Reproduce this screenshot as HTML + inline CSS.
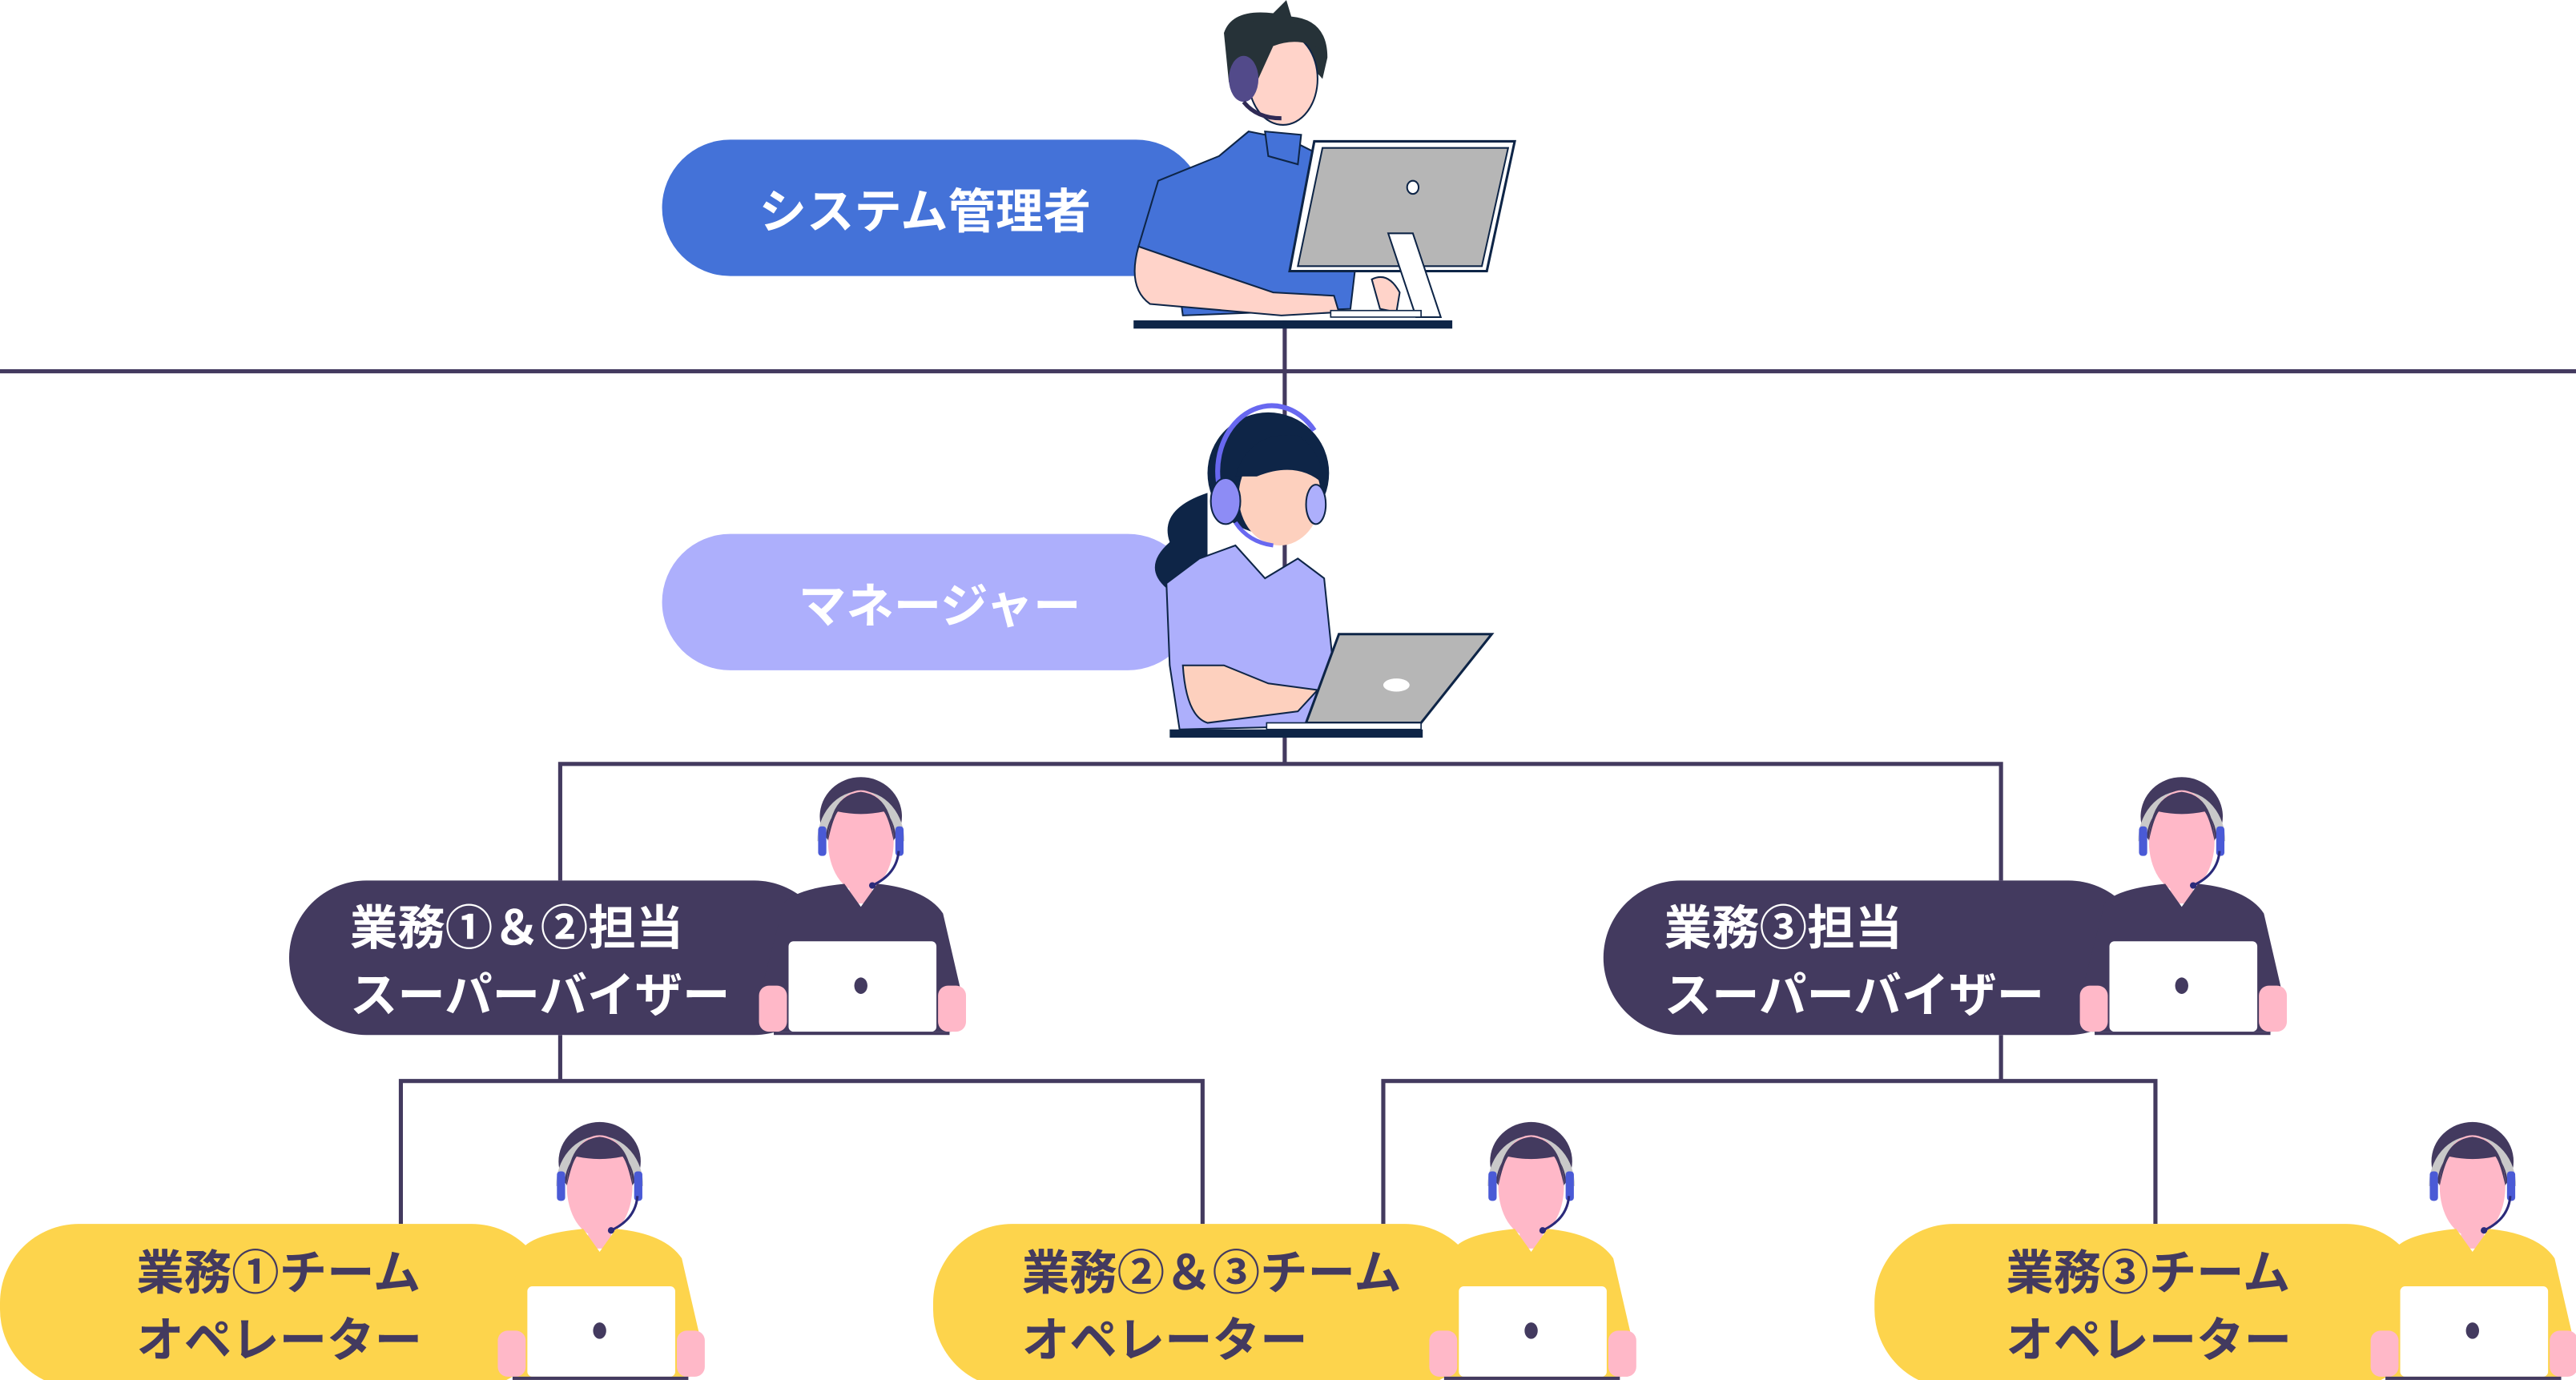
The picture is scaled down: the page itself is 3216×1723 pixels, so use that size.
<!DOCTYPE html>
<html><head><meta charset="utf-8"><style>
html,body{margin:0;padding:0;background:#fff;}
svg{display:block;}
text{font-family:"Liberation Sans","Noto Sans CJK JP",sans-serif;font-weight:bold;}
</style></head><body>
<svg width="3216" height="1723" viewBox="0 0 1568 840" xmlns="http://www.w3.org/2000/svg">
<defs>
<g id="agent">
  <ellipse cx="0" cy="497" rx="25" ry="24" fill="#433a5f"/>
  <path d="M-24,512 A24,28 0 0 1 24,512" fill="none" stroke="#c9c9c9" stroke-width="5"/>
  <rect x="-7" y="530" width="14" height="20" fill="#ffb8c8"/>
  <ellipse cx="0" cy="512" rx="20" ry="31" fill="#ffb8c8"/>
  <path d="M-20,512 Q-19,484 0,482 Q19,484 20,512 Q17,498 14,494 Q0,497 -14,494 Q-17,498 -20,512Z" fill="#433a5f"/>
  <rect x="-26" y="503" width="5" height="18" rx="2" fill="#4a5ad6"/>
  <rect x="21" y="503" width="5" height="18" rx="2" fill="#4a5ad6"/>
  <path d="M23,518 Q22,532 7,539" fill="none" stroke="#2b2a7a" stroke-width="1.5"/>
  <circle cx="7" cy="539" r="2" fill="#2b2a7a"/>
  <path d="M-47,550 Q-40,541 -10,538 L0,552 L10,538 Q40,541 50,556 L62,608 L55,613 L55,628 L-55,628 L-55,612 L-62,608 L-50,562Z" fill="currentColor"/>
  <rect x="-62" y="600" width="17" height="28" rx="6" fill="#ffb8c8"/>
  <rect x="47" y="600" width="17" height="28" rx="6" fill="#ffb8c8"/>
  <rect x="-44" y="573" width="90" height="55" rx="3" fill="#fff"/>
  <ellipse cx="0" cy="600" rx="4" ry="5" fill="#433a5f"/>
  <rect x="-53" y="628" width="107" height="2" fill="#433a5f"/>
</g>
</defs>

<!-- connectors -->
<g stroke="#433a5f" stroke-width="2.5" fill="none">
  <line x1="0" y1="226" x2="1568" y2="226"/>
  <line x1="782" y1="195" x2="782" y2="465"/>
  <polyline points="341,536 341,465 1218,465 1218,536"/>
  <line x1="341" y1="630" x2="341" y2="658"/>
  <line x1="1218" y1="630" x2="1218" y2="658"/>
  <polyline points="244,745 244,658 732,658 732,745"/>
  <polyline points="842,745 842,658 1312,658 1312,745"/>
</g>

<!-- pills -->
<rect x="403" y="85" width="330" height="83" rx="41.5" fill="#4472d8"/>
<rect x="403" y="325" width="325" height="83" rx="41.5" fill="#adaffc"/>
<rect x="176" y="536" width="330" height="94" rx="47" fill="#433a5f"/>
<rect x="976" y="536" width="330" height="94" rx="47" fill="#433a5f"/>
<rect x="0" y="745" width="335" height="100" rx="48" fill="#fdd44c"/>
<rect x="568" y="745" width="335" height="100" rx="48" fill="#fdd44c"/>
<rect x="1141" y="745" width="335" height="100" rx="48" fill="#fdd44c"/>

<!-- admin figure -->
<path d="M745,20 Q750,5 775,8 L783,0 L786,10 Q808,12 808,35 L805,48 Q790,30 770,35 L760,60 L748,50Z" fill="#263238"/>
<path d="M742,95 L760,80 L785,85 L805,95 L830,120 L822,188 L720,192 L716,162 L693,150 L705,110Z" fill="#4472d8" stroke="#0e2547" stroke-width="1"/>
<path d="M770,80 L772,95 L790,100 L792,82Z" fill="#4472d8" stroke="#0e2547" stroke-width="1"/>
<ellipse cx="781" cy="48" rx="21" ry="28" fill="#ffd3c9" stroke="#0e2547" stroke-width="1"/>
<path d="M752,25 Q758,10 772,12 Q795,10 805,30 Q790,22 775,28 L765,50 L755,48Z" fill="#263238"/>
<ellipse cx="757" cy="48" rx="9" ry="14" fill="#524a8a"/>
<path d="M757,62 Q765,72 780,72" fill="none" stroke="#2f2a55" stroke-width="2.5"/>
<path d="M693,150 Q686,175 700,185 L780,192 L815,190 L812,180 L775,178 L722,160Z" fill="#ffd3c9" stroke="#0e2547" stroke-width="1"/>
<path d="M835,170 Q845,165 852,178 L850,190 L840,188Z" fill="#ffd3c9" stroke="#0e2547" stroke-width="1"/>
<polygon points="800,86 922,86 905,165 785,165" fill="#fff" stroke="#0e2547" stroke-width="1.5"/>
<polygon points="805,90 918,90 902,162 790,162" fill="#b6b6b6" stroke="#0e2547" stroke-width="1"/>
<ellipse cx="860" cy="114" rx="3.5" ry="4" fill="#fff" stroke="#0e2547" stroke-width="1"/>
<polygon points="845,142 860,142 877,193 862,193" fill="#fff" stroke="#0e2547" stroke-width="1"/>
<rect x="810" y="189" width="55" height="4" fill="#fff" stroke="#0e2547" stroke-width="0.8"/>
<rect x="690" y="195" width="194" height="5" fill="#0e2547"/>

<!-- manager figure -->
<circle cx="772" cy="288" r="37" fill="#0e2547"/>
<path d="M735,300 Q705,310 712,330 Q695,345 710,358 L735,345Z" fill="#0e2547"/>
<path d="M730,340 L752,332 L770,352 L790,340 L806,352 L812,410 L800,442 L718,444 L712,405 L710,355Z" fill="#adaffc" stroke="#0e2547" stroke-width="1"/>
<ellipse cx="779" cy="302" rx="25" ry="30" fill="#fdd0be"/>
<path d="M752,290 Q760,262 790,265 Q805,275 806,295 Q790,280 765,290Z" fill="#0e2547"/>
<path d="M743,300 A33,40 0 0 1 800,262" fill="none" stroke="#6868f0" stroke-width="3"/>
<ellipse cx="746" cy="305" rx="9" ry="14" fill="#8d8cf5" stroke="#0e2547" stroke-width="1"/>
<ellipse cx="801" cy="307" rx="6" ry="12" fill="#adaffc" stroke="#0e2547" stroke-width="1"/>
<path d="M752,318 Q760,330 775,332" fill="none" stroke="#6868f0" stroke-width="2.5"/>
<path d="M720,405 Q722,436 735,440 L790,433 L802,420 L772,416 L745,405Z" fill="#fdd0be" stroke="#0e2547" stroke-width="1"/>
<polygon points="815,386 908,386 865,440 795,440" fill="#b6b6b6" stroke="#0e2547" stroke-width="1.5"/>
<ellipse cx="850" cy="417" rx="8" ry="4" fill="#fff"/>
<rect x="771" y="440" width="94" height="4" fill="#fff" stroke="#0e2547" stroke-width="0.8"/>
<rect x="712" y="444" width="154" height="5" fill="#0e2547"/>

<!-- agents -->
<use href="#agent" transform="translate(524,0)" style="color:#433a5f"/>
<use href="#agent" transform="translate(1328,0)" style="color:#433a5f"/>
<use href="#agent" transform="translate(365,210)" style="color:#fdd44c"/>
<use href="#agent" transform="translate(932,210)" style="color:#fdd44c"/>
<use href="#agent" transform="translate(1505,210)" style="color:#fdd44c"/>

<!-- labels -->
<text x="563" y="139" font-size="29" fill="#fff" text-anchor="middle">システム管理者</text>
<text x="572" y="379" font-size="29" fill="#fff" text-anchor="middle">マネージャー</text>
<text x="213" y="575" font-size="29" fill="#fff">業務①＆②担当</text>
<text x="213" y="616" font-size="29" fill="#fff">スーパーバイザー</text>
<text x="1013" y="575" font-size="29" fill="#fff">業務③担当</text>
<text x="1013" y="616" font-size="29" fill="#fff">スーパーバイザー</text>
<text x="83" y="785" font-size="29" fill="#433a5f">業務①チーム</text>
<text x="83" y="826" font-size="29" fill="#433a5f">オペレーター</text>
<text x="622" y="785" font-size="29" fill="#433a5f">業務②＆③チーム</text>
<text x="622" y="826" font-size="29" fill="#433a5f">オペレーター</text>
<text x="1221" y="785" font-size="29" fill="#433a5f">業務③チーム</text>
<text x="1221" y="826" font-size="29" fill="#433a5f">オペレーター</text>
</svg>
</body></html>
